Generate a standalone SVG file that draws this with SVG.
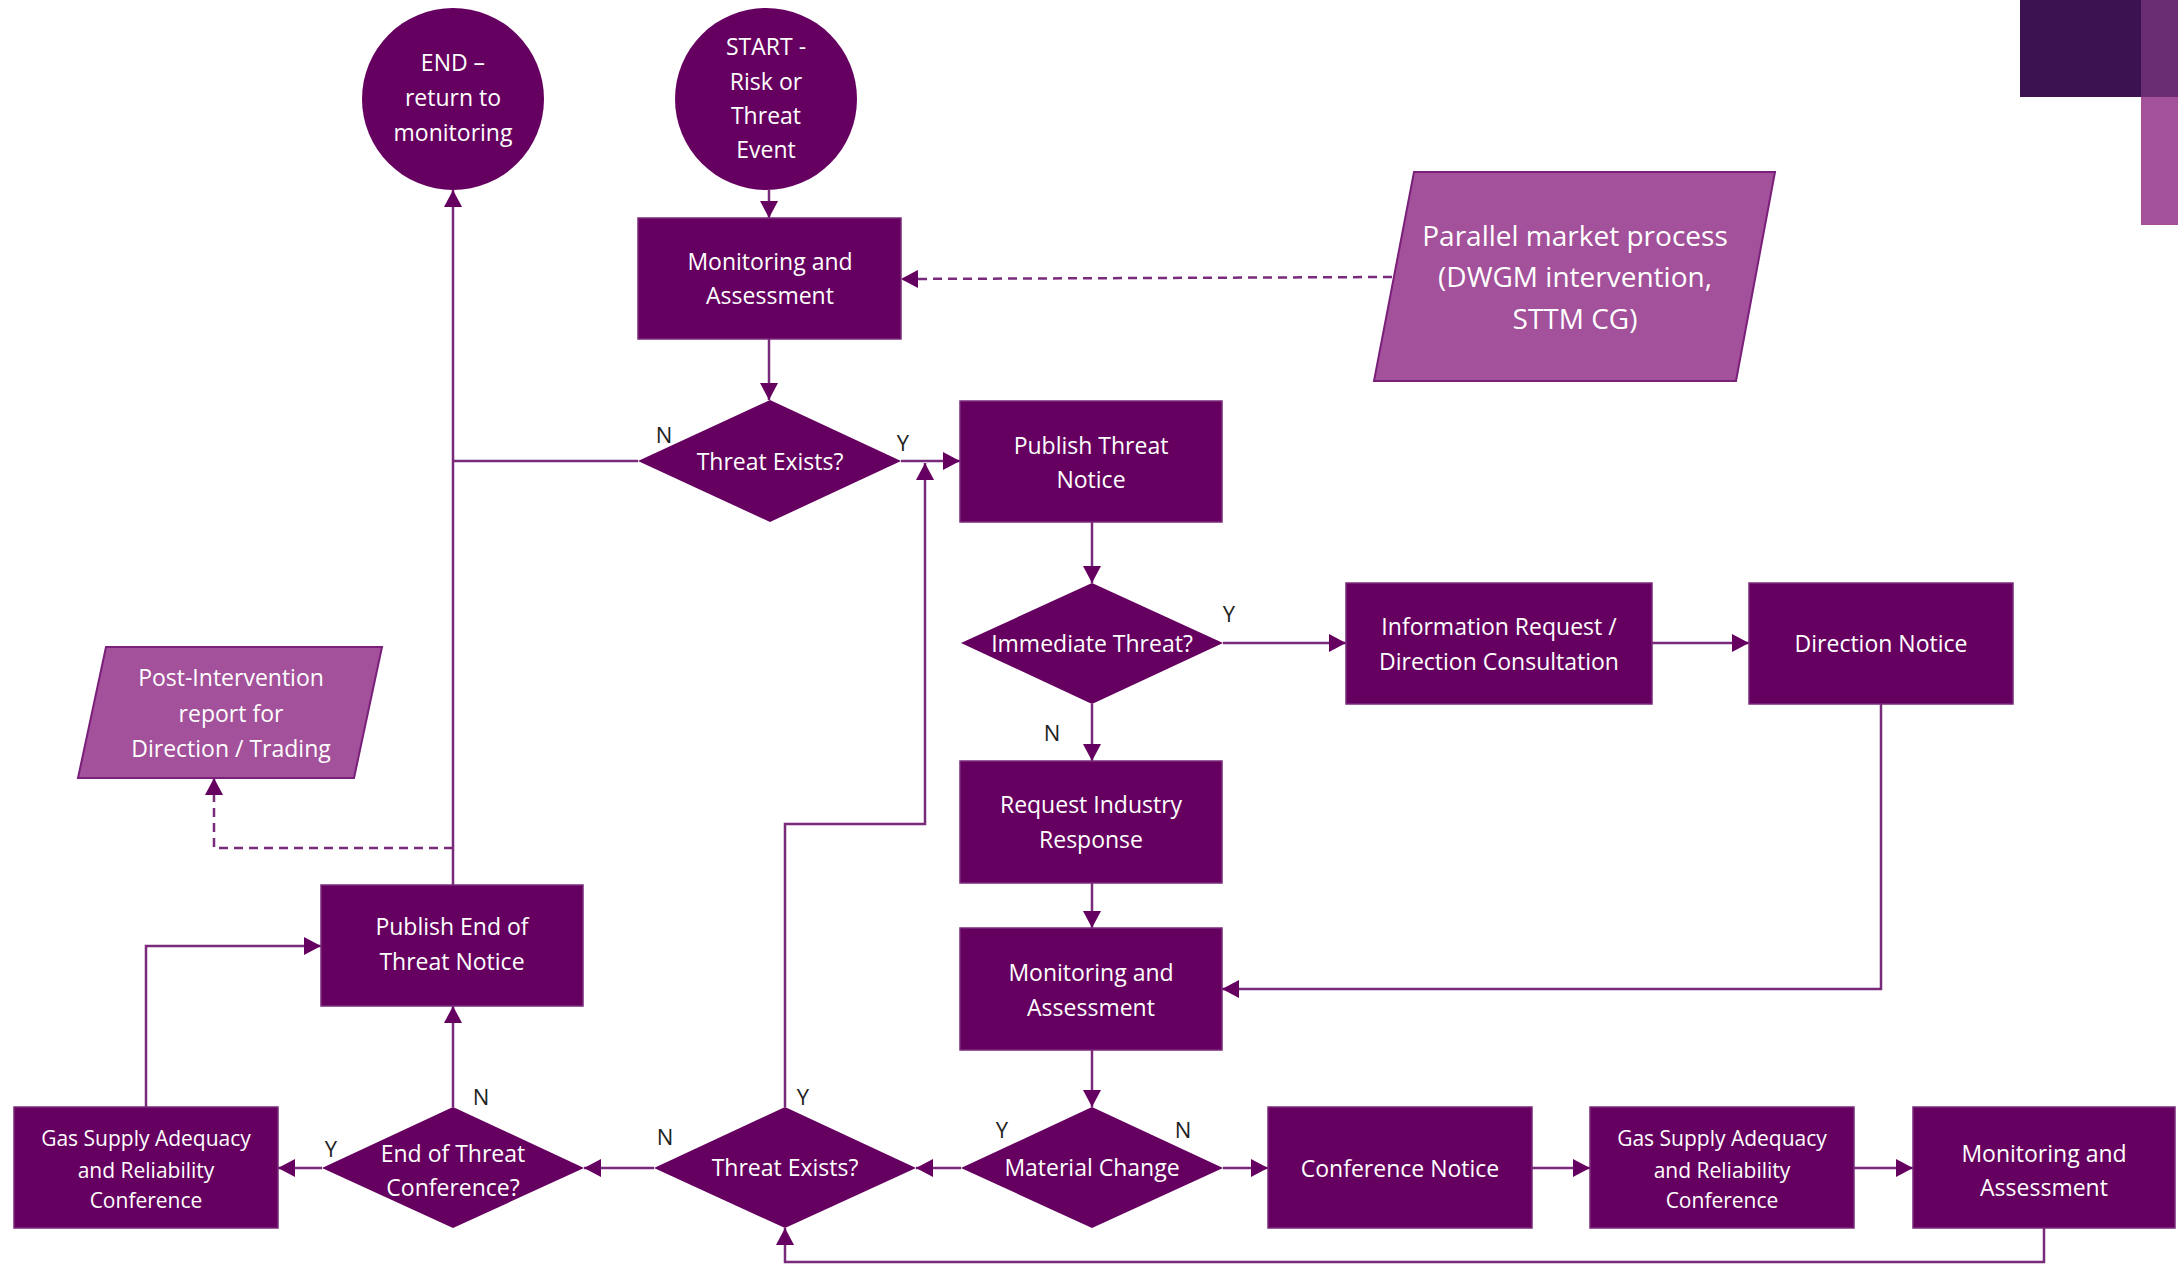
<svg xmlns="http://www.w3.org/2000/svg" width="2178" height="1265" viewBox="0 0 2178 1265">
<style>
.box{fill:#660060;stroke:#7a2a7a;stroke-width:1.5}
.para{fill:#a3519a;stroke:#7a1f7a;stroke-width:2}
.t{font-family:"Open Sans","Noto Sans",sans-serif;font-size:23px;fill:#ffffff;text-anchor:middle;dominant-baseline:central}
.ts{font-size:21px}
.tl{font-size:28px}
.lbl{font-family:"Open Sans","Liberation Sans",sans-serif;font-size:22px;fill:#222222;text-anchor:middle;dominant-baseline:central}
.c{fill:none;stroke:#7a2a7a;stroke-width:2.5;marker-end:url(#ah)}
.cn{fill:none;stroke:#7a2a7a;stroke-width:2.5}
.d{fill:none;stroke:#7a2a7a;stroke-width:2.5;stroke-dasharray:9 6;marker-end:url(#ah)}
</style>
<defs>
<marker id="ah" markerUnits="userSpaceOnUse" markerWidth="18" markerHeight="18" refX="17" refY="9" orient="auto">
<path d="M0,0 L17,9 L0,18 z" fill="#660060"/>
</marker>
</defs>
<rect width="2178" height="1265" fill="#ffffff"/>
<g id="corner">
<rect x="2020" y="0" width="121" height="97" fill="#3d1250"/>
<rect x="2141" y="0" width="37" height="97" fill="#6a2d73"/>
<rect x="2141" y="97" width="37" height="128" fill="#a3529a"/>
</g>
<g id="connectors">
<path class="c" d="M769,190 L769,218"/>
<path class="d" d="M1392,277 L901,279"/>
<path class="c" d="M769,339 L769,400"/>
<path class="cn" d="M638,461 L453,461"/>
<path class="c" d="M901,461 L960,461"/>
<path class="c" d="M785,1107 L785,824 L925,824 L925,463"/>
<path class="c" d="M1092,522 L1092,583"/>
<path class="c" d="M1223,643 L1346,643"/>
<path class="c" d="M1652,643 L1749,643"/>
<path class="c" d="M1881,704 L1881,989 L1222,989"/>
<path class="c" d="M1092,704 L1092,761"/>
<path class="c" d="M1092,883 L1092,928"/>
<path class="c" d="M1092,1050 L1092,1107"/>
<path class="c" d="M961,1168 L916,1168"/>
<path class="c" d="M1223,1168 L1268,1168"/>
<path class="c" d="M1532,1168 L1590,1168"/>
<path class="c" d="M1854,1168 L1913,1168"/>
<path class="c" d="M2044,1228 L2044,1262 L785,1262 L785,1228"/>
<path class="c" d="M654,1168 L584,1168"/>
<path class="c" d="M322,1168 L278,1168"/>
<path class="c" d="M453,1107 L453,1006"/>
<path class="c" d="M146,1107 L146,946 L321,946"/>
<path class="c" d="M453,885 L453,190"/>
<path class="d" d="M453,848 L214,848 L214,778"/>
</g>
<g id="labels">
<text class="lbl" x="664" y="434">N</text>
<text class="lbl" x="903" y="442">Y</text>
<text class="lbl" x="1229" y="613">Y</text>
<text class="lbl" x="1052" y="732">N</text>
<text class="lbl" x="1002" y="1129">Y</text>
<text class="lbl" x="1183" y="1129">N</text>
<text class="lbl" x="803" y="1096">Y</text>
<text class="lbl" x="665" y="1136">N</text>
<text class="lbl" x="481" y="1096">N</text>
<text class="lbl" x="331" y="1148">Y</text>
</g>
<g id="end">
<circle cx="453" cy="99" r="91" fill="#660060"/>
<text class="t" x="453"><tspan x="453" y="62">END –</tspan><tspan x="453" y="97">return to</tspan><tspan x="453" y="132">monitoring</tspan></text>
</g>
<g id="start">
<circle cx="766" cy="99" r="91" fill="#660060"/>
<text class="t"><tspan x="766" y="46">START -</tspan><tspan x="766" y="81">Risk or</tspan><tspan x="766" y="115">Threat</tspan><tspan x="766" y="149">Event</tspan></text>
</g>
<g id="monitoring1">
<rect class="box" x="638" y="218" width="263" height="121"/>
<text class="t"><tspan x="770" y="261">Monitoring and</tspan><tspan x="770" y="295">Assessment</tspan></text>
</g>
<g id="parallel">
<polygon class="para" points="1414,172 1775,172 1736,381 1374,381"/>
<text class="t tl"><tspan x="1575" y="235">Parallel market process</tspan><tspan x="1575" y="276">(DWGM intervention,</tspan><tspan x="1575" y="318">STTM CG)</tspan></text>
</g>
<g id="threat1">
<polygon points="770,400 901,461 770,522 638,461" fill="#660060"/>
<text class="t" x="770" y="461">Threat Exists?</text>
</g>
<g id="publishThreat">
<rect class="box" x="960" y="401" width="262" height="121"/>
<text class="t"><tspan x="1091" y="445">Publish Threat</tspan><tspan x="1091" y="479">Notice</tspan></text>
</g>
<g id="immediate">
<polygon points="1092,583 1223,643 1092,704 961,643" fill="#660060"/>
<text class="t" x="1092" y="643">Immediate Threat?</text>
</g>
<g id="inforeq">
<rect class="box" x="1346" y="583" width="306" height="121"/>
<text class="t"><tspan x="1499" y="626">Information Request /</tspan><tspan x="1499" y="661">Direction Consultation</tspan></text>
</g>
<g id="direction">
<rect class="box" x="1749" y="583" width="264" height="121"/>
<text class="t" x="1881" y="643">Direction Notice</text>
</g>
<g id="requestIndustry">
<rect class="box" x="960" y="761" width="262" height="122"/>
<text class="t"><tspan x="1091" y="804">Request Industry</tspan><tspan x="1091" y="839">Response</tspan></text>
</g>
<g id="monitoring2">
<rect class="box" x="960" y="928" width="262" height="122"/>
<text class="t"><tspan x="1091" y="972">Monitoring and</tspan><tspan x="1091" y="1007">Assessment</tspan></text>
</g>
<g id="material">
<polygon points="1092,1107 1223,1168 1092,1228 961,1168" fill="#660060"/>
<text class="t" x="1092" y="1167">Material Change</text>
</g>
<g id="confNotice">
<rect class="box" x="1268" y="1107" width="264" height="121"/>
<text class="t" x="1400" y="1168">Conference Notice</text>
</g>
<g id="gasRight">
<rect class="box" x="1590" y="1107" width="264" height="121"/>
<text class="t ts"><tspan x="1722" y="1138">Gas Supply Adequacy</tspan><tspan x="1722" y="1170">and Reliability</tspan><tspan x="1722" y="1200">Conference</tspan></text>
</g>
<g id="monitoring3">
<rect class="box" x="1913" y="1107" width="262" height="121"/>
<text class="t"><tspan x="2044" y="1153">Monitoring and</tspan><tspan x="2044" y="1187">Assessment</tspan></text>
</g>
<g id="threat2">
<polygon points="785,1107 916,1168 785,1228 654,1168" fill="#660060"/>
<text class="t" x="785" y="1167">Threat Exists?</text>
</g>
<g id="endConf">
<polygon points="453,1107 584,1168 453,1228 322,1168" fill="#660060"/>
<text class="t"><tspan x="453" y="1153">End of Threat</tspan><tspan x="453" y="1187">Conference?</tspan></text>
</g>
<g id="gasLeft">
<rect class="box" x="14" y="1107" width="264" height="121"/>
<text class="t ts"><tspan x="146" y="1138">Gas Supply Adequacy</tspan><tspan x="146" y="1170">and Reliability</tspan><tspan x="146" y="1200">Conference</tspan></text>
</g>
<g id="publishEnd">
<rect class="box" x="321" y="885" width="262" height="121"/>
<text class="t"><tspan x="452" y="926">Publish End of</tspan><tspan x="452" y="961">Threat Notice</tspan></text>
</g>
<g id="postIntervention">
<polygon class="para" points="106,647 382,647 354,778 78,778"/>
<text class="t"><tspan x="231" y="677">Post-Intervention</tspan><tspan x="231" y="713">report for</tspan><tspan x="231" y="748">Direction / Trading</tspan></text>
</g>
</svg>
